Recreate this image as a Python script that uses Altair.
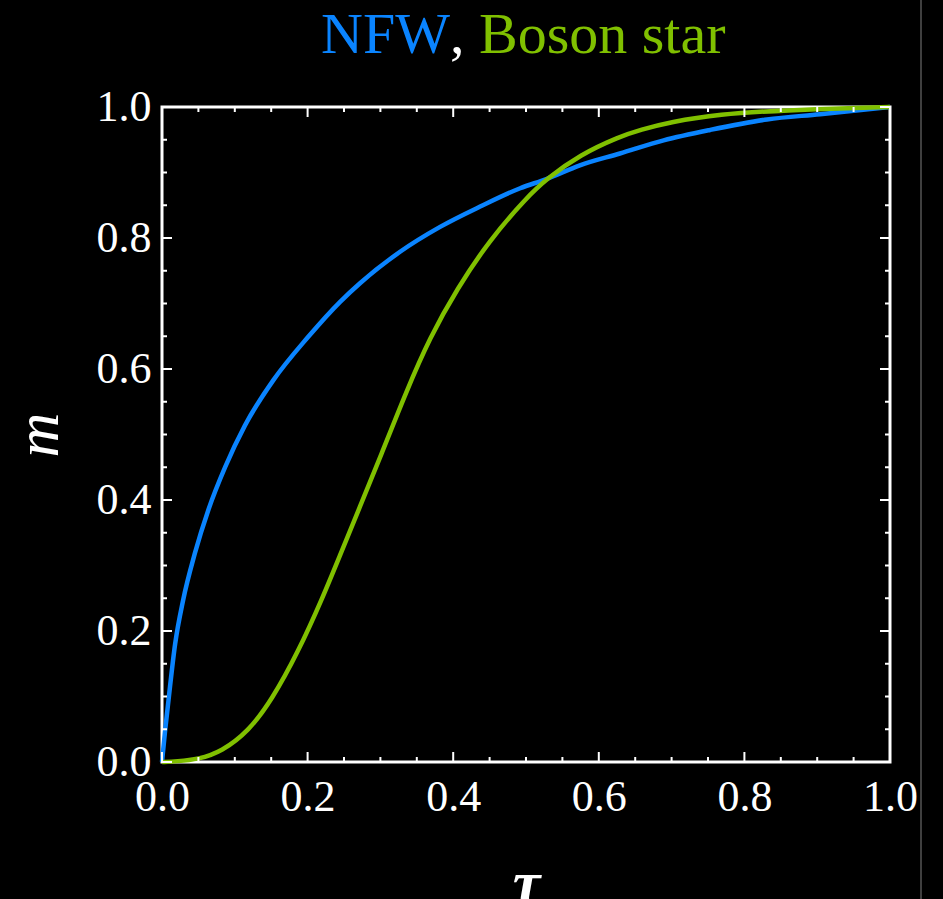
import altair as alt
import pandas as pd

# ---- data ----
tau_nfw = [0.0, 0.004, 0.009, 0.018, 0.029, 0.045, 0.064, 0.087, 0.114, 0.153, 0.2, 0.245,
           0.272, 0.327, 0.382, 0.437, 0.492, 0.528, 0.574, 0.629, 0.689, 0.753, 0.831, 0.904, 1.0]
m_nfw = [0.0, 0.045, 0.095, 0.18, 0.247, 0.318, 0.386, 0.451, 0.514, 0.583, 0.648, 0.703,
         0.731, 0.779, 0.817, 0.848, 0.876, 0.89, 0.911, 0.929, 0.949, 0.965, 0.981, 0.989, 1.0]

tau_bs = [0.0, 0.02, 0.05, 0.082, 0.119, 0.151, 0.187, 0.22, 0.245, 0.272, 0.3, 0.336, 0.368,
          0.405, 0.45, 0.501, 0.528, 0.574, 0.629, 0.657, 0.698, 0.766, 0.849, 1.0]
m_bs = [0.0, 0.001, 0.004, 0.016, 0.047, 0.095, 0.168, 0.249, 0.317, 0.39, 0.466, 0.567, 0.648,
        0.722, 0.797, 0.862, 0.89, 0.927, 0.955, 0.965, 0.977, 0.989, 0.995, 1.0]

major_ticks = [0.0, 0.2, 0.4, 0.6, 0.8, 1.0]
minor_ticks = [0.05, 0.1, 0.15, 0.25, 0.3, 0.35, 0.45, 0.5, 0.55, 0.65, 0.7, 0.75, 0.85, 0.9, 0.95]

title_parts = ["NFW", ",", "Boson star"]
x_title = "τ"
y_title = "m"

# ---- styling ----
W, H = 728, 655
BLUE = "#0a84ff"
GREEN = "#80c000"
FONT = "Liberation Serif"
MAJOR_LEN, MINOR_LEN = 10, 5

xs = alt.Scale(domain=[0, 1], nice=False, zero=False)
ys = alt.Scale(domain=[0, 1], nice=False, zero=False)

x_axis = alt.Axis(values=major_ticks, format=".1f", title=x_title, titleFont=FONT,
                  titleFontStyle="italic", titleFontWeight="bold", titleFontSize=62,
                  titleColor="white", titleX=W / 2, titleY=140, titleBaseline="alphabetic",
                  titleAlign="center",
                  labelFont=FONT, labelFontSize=44, labelColor="white", labelPadding=13,
                  labelFlush=False, labelOverlap=False, ticks=False, domain=False, grid=False)
y_axis = alt.Axis(values=major_ticks, format=".1f", title=y_title, titleFont=FONT,
                  titleFontStyle="italic", titleFontWeight="normal", titleFontSize=62,
                  titleColor="white", titleAngle=-90, titleX=-124, titleY=H / 2,
                  titleAlign="center", titleBaseline="middle",
                  labelFont=FONT, labelFontSize=44, labelColor="white", labelPadding=11,
                  labelFlush=False, labelOverlap=False, ticks=False, domain=False, grid=False)

df_nfw = pd.DataFrame({"tau": tau_nfw, "m": m_nfw})
df_bs = pd.DataFrame({"tau": tau_bs, "m": m_bs})

line_nfw = alt.Chart(df_nfw).mark_line(color=BLUE, strokeWidth=4.5, interpolate="monotone").encode(
    x=alt.X("tau:Q", scale=xs, axis=x_axis),
    y=alt.Y("m:Q", scale=ys, axis=y_axis),
)
line_bs = alt.Chart(df_bs).mark_line(color=GREEN, strokeWidth=4.5, interpolate="basis").encode(
    x=alt.X("tau:Q", scale=xs, axis=x_axis),
    y=alt.Y("m:Q", scale=ys, axis=y_axis),
)


def tick_layers(values, length):
    d = pd.DataFrame({"v": values})
    base = alt.Chart(d).mark_rule(color="white", strokeWidth=2)
    bottom = base.encode(x=alt.X("v:Q", scale=xs, axis=x_axis), y=alt.value(H), y2=alt.value(H - length))
    top = base.encode(x=alt.X("v:Q", scale=xs, axis=x_axis), y=alt.value(0), y2=alt.value(length))
    left = base.encode(y=alt.Y("v:Q", scale=ys, axis=y_axis), x=alt.value(0), x2=alt.value(length))
    right = base.encode(y=alt.Y("v:Q", scale=ys, axis=y_axis), x=alt.value(W), x2=alt.value(W - length))
    return [bottom, top, left, right]


ticks = tick_layers(major_ticks, MAJOR_LEN) + tick_layers(minor_ticks, MINOR_LEN)

t1 = alt.Chart(pd.DataFrame({"t": [title_parts[0]]})).mark_text(
    font=FONT, fontSize=58, color=BLUE, align="right", baseline="alphabetic"
).encode(text="t:N", x=alt.value(288), y=alt.value(-54))
t2 = alt.Chart(pd.DataFrame({"t": [title_parts[1]]})).mark_text(
    font=FONT, fontSize=58, color="white", align="left", baseline="alphabetic"
).encode(text="t:N", x=alt.value(288), y=alt.value(-54))
t3 = alt.Chart(pd.DataFrame({"t": [title_parts[2]]})).mark_text(
    font=FONT, fontSize=58, color=GREEN, align="left", baseline="alphabetic"
).encode(text="t:N", x=alt.value(317), y=alt.value(-54))

edge = alt.Chart(pd.DataFrame({"k": [0]})).mark_rule(color="#555555", strokeWidth=1.5).encode(
    x=alt.value(759), y=alt.value(-107), y2=alt.value(792)
)

chart = alt.layer(line_nfw, line_bs, *ticks, t1, t2, t3, edge).properties(
    width=W, height=H,
    autosize=alt.AutoSizeParams(type="none"),
    padding={"left": 162, "top": 107, "right": 53, "bottom": 137},
    background="black",
).configure_view(stroke="white", strokeWidth=3, fill="black")

chart.save("out.html", embed_options={"renderer": "svg", "actions": False})
